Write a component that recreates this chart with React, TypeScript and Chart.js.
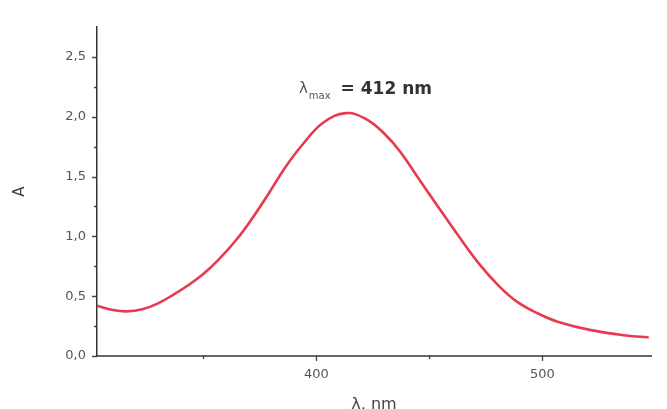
import React, { useEffect, useRef } from "react";
import { Chart, registerables } from "chart.js";

Chart.register(...registerables);

const wavelengths = [303, 310, 316, 323, 330, 337, 344, 350, 357, 365, 372, 379, 386, 394, 403, 413, 422, 430, 437, 445, 453, 463, 472, 481, 489, 498, 507, 522, 537, 547];
const absorbance = [0.42, 0.385, 0.373, 0.39, 0.44, 0.515, 0.6, 0.685, 0.81, 0.98, 1.16, 1.36, 1.57, 1.77, 1.95, 2.03, 1.98, 1.86, 1.71, 1.49, 1.27, 1.0, 0.77, 0.58, 0.45, 0.355, 0.285, 0.214, 0.172, 0.155];
const xTickValues = [350, 400, 450, 500];
const xLabelValues = [400, 500];
const yTickValues = [0, 0.25, 0.5, 0.75, 1, 1.25, 1.5, 1.75, 2, 2.25, 2.5];
const yLabelValues = [0, 0.5, 1, 1.5, 2, 2.5];
const annotationMain = "λ";
const annotationSub = "max";
const annotationRest = "= 412 nm";
const xTitle = "λ, nm";
const yTitle = "A";

const FONT = "'DejaVu Sans', 'Liberation Sans', Arial, sans-serif";

const isIn = (arr: number[], v: number) => arr.some((a) => Math.abs(a - v) < 1e-6);

const tickPlugin = {
  id: "customTicks",
  afterDraw(chart: any) {
    const { ctx, chartArea } = chart;
    const xs = chart.scales.x;
    const ys = chart.scales.y;
    ctx.save();
    ctx.strokeStyle = "#444";
    ctx.lineWidth = 1.3;
    ctx.beginPath();
    yTickValues.forEach((v) => {
      const py = Math.round(ys.getPixelForValue(v)) + 0.5;
      const len = isIn(yLabelValues, v) ? 5 : 3;
      ctx.moveTo(chartArea.left - len, py);
      ctx.lineTo(chartArea.left, py);
    });
    xTickValues.forEach((v) => {
      const px = Math.round(xs.getPixelForValue(v)) + 0.5;
      const len = isIn(xLabelValues, v) ? 5 : 3;
      ctx.moveTo(px, chartArea.bottom - 1);
      ctx.lineTo(px, chartArea.bottom + len);
    });
    ctx.stroke();

    // annotation
    const ax = xs.getPixelForValue(392.3);
    const ay = ys.getPixelForValue(2.25);
    ctx.textBaseline = "alphabetic";
    ctx.textAlign = "left";
    ctx.fillStyle = "#555";
    ctx.font = `15px ${FONT}`;
    ctx.fillText(annotationMain, ax, ay + 6);
    let w = ctx.measureText(annotationMain).width + 1;
    ctx.font = `10px ${FONT}`;
    ctx.fillText(annotationSub, ax + w, ay + 12);
    w += ctx.measureText(annotationSub).width + 10;
    ctx.fillStyle = "#333";
    ctx.font = `bold 17px ${FONT}`;
    ctx.fillText(annotationRest, ax + w, ay + 7);
    ctx.restore();
  },
};

export default function App() {
  const ref = useRef<HTMLCanvasElement | null>(null);
  useEffect(() => {
    document.body.style.margin = "0";
    document.body.style.overflow = "hidden";
    const canvas = ref.current;
    if (!canvas) return;
    const chart = new Chart(canvas, {
      type: "line",
      data: {
        datasets: [
          {
            data: wavelengths.map((x, i) => ({ x, y: absorbance[i] })),
            borderColor: "#e8394f",
            borderWidth: 2.6,
            pointRadius: 0,
            tension: 0.4,
            fill: false,
          },
        ],
      },
      options: {
        animation: false,
        responsive: false,
        maintainAspectRatio: false,
        layout: { padding: { top: 27, right: 16, left: 0, bottom: 0 } },
        plugins: { legend: { display: false }, tooltip: { enabled: false } },
        scales: {
          x: {
            type: "linear",
            min: 303,
            max: 548,
            afterBuildTicks: (scale: any) => {
              scale.ticks = xTickValues.map((value) => ({ value }));
            },
            afterFit: (scale: any) => {
              scale.height = 53;
            },
            ticks: {
              autoSkip: false,
              maxRotation: 0,
              padding: 11,
              color: "#555",
              font: { family: FONT, size: 13 },
              callback: (v: any) => (isIn(xLabelValues, Number(v)) ? String(v) : ""),
            },
            grid: { display: false, drawTicks: false },
            border: { display: true, color: "#666", width: 2 },
            title: {
              display: true,
              text: xTitle,
              color: "#444",
              font: { family: FONT, size: 16 },
              padding: { top: 0, bottom: -5.6 },
            },
          },
          y: {
            type: "linear",
            min: 0,
            max: 2.75,
            afterBuildTicks: (scale: any) => {
              scale.ticks = yTickValues.map((value) => ({ value }));
            },
            afterFit: (scale: any) => {
              scale.width = 97;
            },
            ticks: {
              autoSkip: false,
              padding: 11,
              color: "#555",
              font: { family: FONT, size: 13 },
              callback: (v: any) =>
                isIn(yLabelValues, Number(v)) ? Number(v).toFixed(1).replace(".", ",") : "",
            },
            grid: { display: false, drawTicks: false },
            border: { display: true, color: "#333", width: 1.5 },
            title: {
              display: true,
              text: yTitle,
              color: "#444",
              font: { family: FONT, size: 15 },
              padding: { top: 11, bottom: 0 },
            },
          },
        },
      },
      plugins: [tickPlugin],
    } as any);
    return () => chart.destroy();
  }, []);
  return (
    <div style={{ width: 667, height: 409, background: "#fff" }}>
      <canvas ref={ref} width={667} height={409} style={{ display: "block" }} />
    </div>
  );
}
